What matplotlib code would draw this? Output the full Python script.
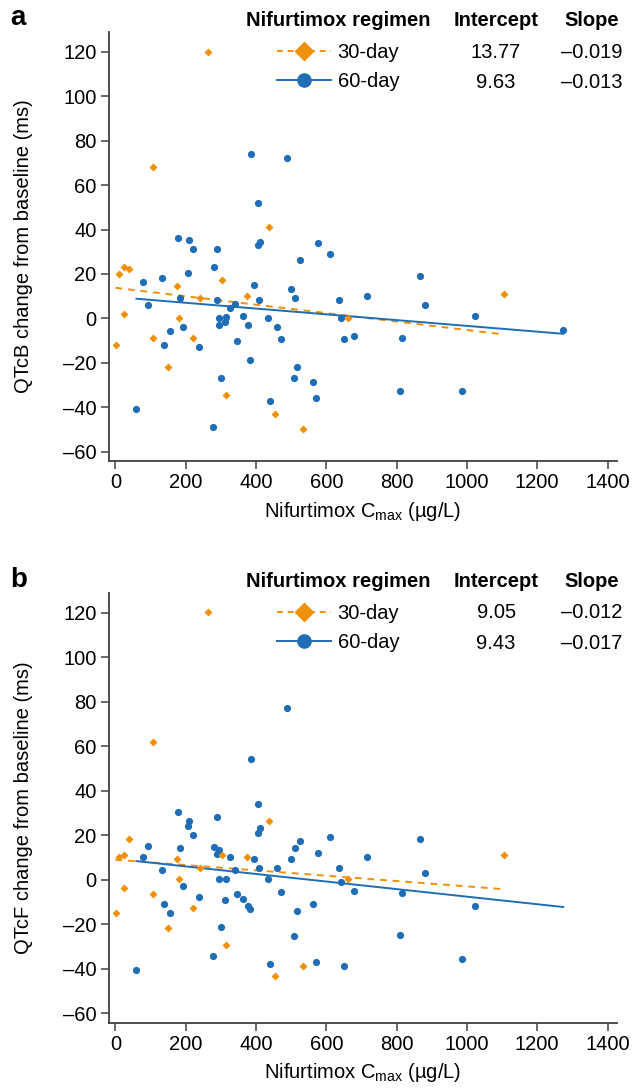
import numpy as np
import matplotlib
matplotlib.use("Agg")
import matplotlib.pyplot as plt
from matplotlib.lines import Line2D
from matplotlib.ticker import FuncFormatter

plt.rcParams['font.family'] = ['Liberation Sans', 'DejaVu Sans']
plt.rcParams['mathtext.fontset'] = 'custom'
plt.rcParams['mathtext.rm'] = 'Liberation Sans'
plt.rcParams['axes.unicode_minus'] = False

ORANGE = '#F0900A'
BLUE = '#1F6DB5'
AXCOL = '#404040'
FS = 14.5

# Cmax (ug/L) per patient, shared by both panels
x_30 = [1, 10, 24, 24, 40, 106, 106, 149, 174, 181, 222, 242, 263, 304, 314,
        374, 437, 455, 533, 661, 1105]
qtcb_30 = [-11.9, 20.1, 23.3, 2.1, 22.1, 68.3, -8.9, -21.9, 14.4, 0.2, -8.9, 9.3,
           120.0, 17.3, -34.4, 10.2, 41.3, -42.9, -49.8, 0.3, 11.1]
qtcf_30 = [-14.9, 10.4, 11.1, -3.8, 18.5, 62.1, -6.2, -21.8, 9.2, 0.3, -12.8, 5.4,
           120.5, 11.0, -29.1, 10.2, 26.4, -43.0, -38.7, 0.5, 11.1]

x_60 = [60, 79, 93, 132, 137, 155, 177, 185, 192, 208, 210, 222, 239, 277, 281,
        290, 289, 294, 296, 300, 312, 314, 326, 339, 346, 362, 377, 383, 386, 395,
        405, 407, 408, 411, 434, 441, 460, 472, 487, 499, 508, 510, 517, 525, 562,
        572, 576, 610, 636, 641, 651, 679, 717, 810, 814, 866, 882, 987, 1023, 1274]
qtcb_60 = [-41.0, 16.2, 6.0, 18.2, -11.9, -5.9, 36.2, 9.2, -3.8, 20.3, 35.1, 31.1,
           -13.1, -49.1, 23.3, 31.2, 8.4, 0.2, -3.0, -26.9, -1.4, 0.6, 4.8, 6.3,
           -10.1, 1.1, -3.0, -18.8, 74.2, 15.0, 52.1, 33.0, 8.1, 34.4, 0.0, -37.1,
           -3.8, -9.2, 72.4, 13.2, -26.9, 9.2, -22.1, 26.1, -28.8, -35.7, 34.1, 29.0,
           8.3, 0.0, -9.2, -7.8, 10.1, -32.9, -8.8, 19.2, 6.0, -32.9, 0.9, -5.0]
qtcf_60 = [-40.7, 10.4, 15.3, 4.4, -10.7, -14.9, 30.5, 14.3, -2.7, 24.3, 26.6, 20.3,
           -7.8, -34.1, 14.6, 28.2, 11.7, 0.2, 13.5, -21.0, -8.9, 0.2, 10.2, 4.4,
           -6.6, -8.6, -11.9, -13.1, 54.3, 9.5, 34.2, 21.2, 5.3, 23.4, 0.2, -38.0,
           5.1, -5.6, 77.3, 9.3, -25.1, 14.3, -13.8, 17.3, -11.0, -36.9, 12.2, 19.4,
           5.1, -1.2, -38.9, -5.0, 10.4, -24.9, -5.9, 18.3, 3.2, -35.7, -11.9, np.nan]

panels = [
    ('a', 'QTcB change from baseline (ms)', qtcb_30, qtcb_60,
     ('13.77', '\u20130.019'), ('9.63', '\u20130.013'), (13.77, -0.019), (9.63, -0.013)),
    ('b', 'QTcF change from baseline (ms)', qtcf_30, qtcf_60,
     ('9.05', '\u20130.012'), ('9.43', '\u20130.017'), (9.05, -0.012), (9.43, -0.017)),
]

fmt = FuncFormatter(lambda v, p: f'{v:.0f}'.replace('-', '\u2013'))

fig = plt.figure(figsize=(6.32, 10.89), dpi=100)
boxes = [[0.1725, 0.5767, 0.8038, 0.394], [0.1725, 0.0609, 0.8038, 0.3948]]
label_y = [1 - 18 / 1089, 1 - 580 / 1089]

for i, (tag, ylab, y30, y60, txt30, txt60, fit30, fit60) in enumerate(panels):
    ax = fig.add_axes(boxes[i])
    x30 = np.array(x_30, dtype=float)
    x60 = np.array(x_60, dtype=float)

    # regression lines over each group's Cmax range
    xl = np.array([x30.min() - 1, x30.max()])
    ax.plot(xl, fit30[0] + fit30[1] * xl, color=ORANGE, lw=1.4, ls=(0, (3.5, 3)))
    xl = np.array([x60.min(), x60.max()])
    ax.plot(xl, fit60[0] + fit60[1] * xl, color=BLUE, lw=1.4)

    ax.plot(x60, y60, 'o', color=BLUE, ms=5.2, mec='none')
    ax.plot(x30, y30, 'D', color=ORANGE, ms=4, mec='none')

    ax.set_xlim(-18, 1427)
    ax.set_ylim(-64.2, 129)
    ax.set_xticks(range(0, 1401, 200))
    ax.set_yticks(range(-60, 121, 20))
    ax.yaxis.set_major_formatter(fmt)
    ax.xaxis.set_major_formatter(fmt)
    for s in ['top', 'right']:
        ax.spines[s].set_visible(False)
    for s in ['left', 'bottom']:
        ax.spines[s].set_color(AXCOL)
        ax.spines[s].set_linewidth(1.3)
    ax.tick_params(direction='out', length=6, width=1.1, color=AXCOL,
                   labelsize=FS, pad=3)

    ax.set_ylabel(ylab, fontsize=FS)
    ax.yaxis.set_label_coords(-0.15, 0.5)
    ax.set_xlabel('Nifurtimox C$_{\\mathrm{max}}$ (\u00b5g/L)', fontsize=FS)
    ax.xaxis.set_label_coords(0.5, -0.09)

    # legend table
    handles = [Line2D([], [], color=ORANGE, ls=(0, (3, 2.5)), lw=1.4, marker='D', ms=9),
               Line2D([], [], color=BLUE, lw=1.4, marker='o', ms=9.5)]
    ax.legend(handles, ['30-day', '60-day'], loc='center left',
              bbox_to_anchor=(0.331, 0.918), frameon=False, fontsize=FS,
              handlelength=2.65, handletextpad=0.35, labelspacing=0.5,
              borderpad=0, borderaxespad=0)
    hy, r1, r2 = 1.027, 0.953, 0.883
    ax.text(0.451, hy, 'Nifurtimox regimen', transform=ax.transAxes, ha='center',
            va='center', fontsize=FS, weight='bold')
    ax.text(0.762, hy, 'Intercept', transform=ax.transAxes, ha='center',
            va='center', fontsize=FS, weight='bold')
    ax.text(0.951, hy, 'Slope', transform=ax.transAxes, ha='center',
            va='center', fontsize=FS, weight='bold')
    for yy, (ic, sl) in [(r1, txt30), (r2, txt60)]:
        ax.text(0.762, yy, ic, transform=ax.transAxes, ha='center', va='center', fontsize=FS)
        ax.text(0.951, yy, sl, transform=ax.transAxes, ha='center', va='center', fontsize=FS)

    fig.text(0.016, label_y[i], tag, fontsize=20, weight='bold', ha='left', va='center')

fig.savefig('out.png', dpi=100)
